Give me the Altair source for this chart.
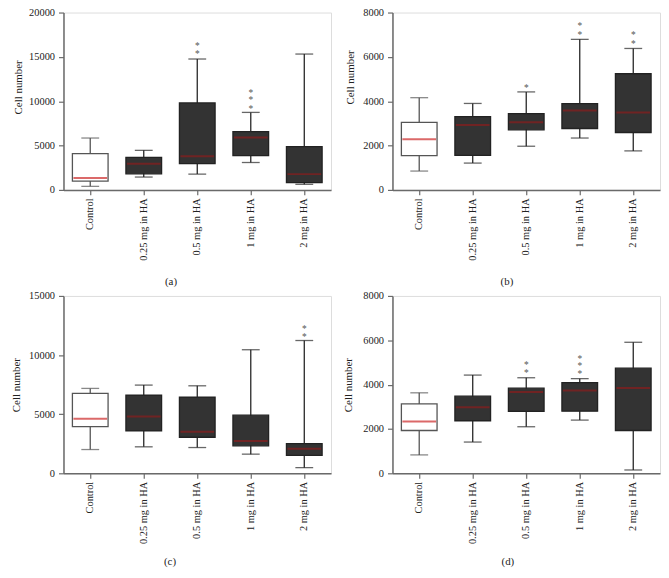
import altair as alt
import pandas as pd

CATS = ["Control", "0.25 mg in HA", "0.5 mg in HA", "1 mg in HA", "2 mg in HA"]

# Panel (a)
a_low = [400, 1450, 1780, 3090, 630]
a_q1 = [1000, 1820, 2970, 3870, 820]
a_med = [1350, 2940, 3790, 5910, 1780]
a_q3 = [4100, 3680, 9810, 6580, 4870]
a_high = [5850, 4460, 14760, 8740, 15320]
a_star_cat = ["0.5 mg in HA", "0.5 mg in HA", "1 mg in HA", "1 mg in HA", "1 mg in HA"]
a_star_y = [15500, 16500, 9400, 10340, 11150]

# Panel (b)
b_low = [850, 1210, 1970, 2340, 1760]
b_q1 = [1550, 1560, 2710, 2770, 2590]
b_med = [2290, 2930, 3050, 3580, 3490]
b_q3 = [3050, 3310, 3440, 3890, 5240]
b_high = [4160, 3900, 4420, 6790, 6380]
b_star_cat = ["0.5 mg in HA", "1 mg in HA", "1 mg in HA", "2 mg in HA", "2 mg in HA"]
b_star_y = [4690, 7080, 7460, 6670, 7080]

# Panel (c)
c_low = [2010, 2240, 2180, 1620, 480]
c_q1 = [3940, 3580, 3050, 2320, 1510]
c_med = [4610, 4800, 3520, 2740, 2070]
c_q3 = [6760, 6620, 6450, 4920, 2510]
c_high = [7180, 7460, 7400, 10450, 11230]
c_star_cat = ["2 mg in HA", "2 mg in HA"]
c_star_y = [11700, 12400]

# Panel (d)
d_low = [830, 1410, 2100, 2400, 150]
d_q1 = [1930, 2370, 2790, 2800, 1930]
d_med = [2340, 2980, 3670, 3730, 3850]
d_q3 = [3130, 3480, 3840, 4090, 4740]
d_high = [3630, 4430, 4310, 4270, 5910]
d_star_cat = ["0.5 mg in HA", "0.5 mg in HA", "1 mg in HA", "1 mg in HA", "1 mg in HA"]
d_star_y = [4610, 4980, 4560, 4950, 5260]

FONT = "Liberation Serif"
AXIS_GRAY = "#6a6a6a"


def panel(label, low, q1, med, q3, high, star_cat, star_y, ymax, ystep,
          ytitle_x, ytitle_y, xtitle_x, xtitle_y):
    df = pd.DataFrame({"cat": CATS, "low": low, "q1": q1, "med": med,
                       "q3": q3, "high": high})
    df["ctrl"] = df["cat"] == "Control"
    stars = pd.DataFrame({"cat": star_cat, "y": star_y})

    xaxis = alt.Axis(
        title=label, titleX=xtitle_x, titleY=xtitle_y, titleBaseline="middle",
        titleFont=FONT, titleFontSize=11, titleFontWeight="normal", titleColor="#222",
        labelAngle=270, labelFont=FONT, labelFontSize=10.5, labelColor="#222",
        labelPadding=3, tickSize=5, tickColor=AXIS_GRAY, domainColor=AXIS_GRAY,
        domainWidth=1.5, tickWidth=1.2)
    xenc = alt.X("cat:N", sort=CATS,
                 scale=alt.Scale(domain=CATS, paddingInner=0, paddingOuter=0),
                 axis=xaxis)
    yscale = alt.Scale(domain=[0, ymax], nice=False, zero=True)
    yaxis = alt.Axis(
        title="Cell number", titleX=ytitle_x, titleY=ytitle_y, titleBaseline="middle",
        titleAngle=270, titleFont=FONT, titleFontSize=11, titleFontWeight="normal",
        titleColor="#222",
        values=list(range(0, ymax + 1, ystep)), format="d", grid=False,
        labelFont=FONT, labelFontSize=10.5, labelColor="#222", labelPadding=4,
        tickSize=5, tickColor=AXIS_GRAY, domainColor=AXIS_GRAY, domainWidth=1.5,
        tickWidth=1.2)

    def Y(f):
        return alt.Y(f"{f}:Q", scale=yscale, axis=yaxis)

    line_color = alt.condition("datum.ctrl", alt.value("#555555"), alt.value("#262626"))

    base = alt.Chart(df).encode(x=xenc)
    whisk = base.mark_rule(strokeWidth=1.3).encode(y=Y("low"), y2="high:Q", color=line_color)
    cap_hi = base.mark_tick(size=18, thickness=1.3).encode(y=Y("high"), color=line_color)
    cap_lo = base.mark_tick(size=18, thickness=1.3).encode(y=Y("low"), color=line_color)
    box = base.mark_bar(size=36, strokeWidth=1.3).encode(
        y=Y("q1"), y2="q3:Q",
        fill=alt.condition("datum.ctrl", alt.value("white"), alt.value("#333333")),
        stroke=alt.condition("datum.ctrl", alt.value("#555555"), alt.value("#222222")))
    median = base.mark_tick(size=34, thickness=2).encode(
        y=Y("med"),
        color=alt.condition("datum.ctrl", alt.value("#cc2a2a"), alt.value("#8a1c1c")))
    star = alt.Chart(stars).mark_text(
        text="*", font=FONT, fontSize=9.5, color="#555555", baseline="alphabetic", dy=5
    ).encode(x=xenc, y=Y("y"))

    return alt.layer(whisk, cap_hi, cap_lo, box, median, star).properties(
        width=270, height=179)


pa = panel("(a)", a_low, a_q1, a_med, a_q3, a_high, a_star_cat, a_star_y,
           20000, 5000, -45, 75, 108, 92)
pb = panel("(b)", b_low, b_q1, b_med, b_q3, b_high, b_star_cat, b_star_y,
           8000, 2000, -42, 65, 115, 92)
pc = panel("(c)", c_low, c_q1, c_med, c_q3, c_high, c_star_cat, c_star_y,
           15000, 5000, -47, 89.5, 107, 89)
pd_ = panel("(d)", d_low, d_q1, d_med, d_q3, d_high, d_star_cat, d_star_y,
            8000, 2000, -44, 89.5, 116, 89)

chart = alt.concat(
    pa, pb, pc, pd_, columns=2, bounds="flush",
    spacing={"row": 107, "column": 62}
).properties(
    padding={"left": 2, "top": -4, "right": 0, "bottom": 0}
).configure_view(strokeWidth=0).configure(background="white")

chart.save("out.html", embed_options={"renderer": "svg", "actions": False})
